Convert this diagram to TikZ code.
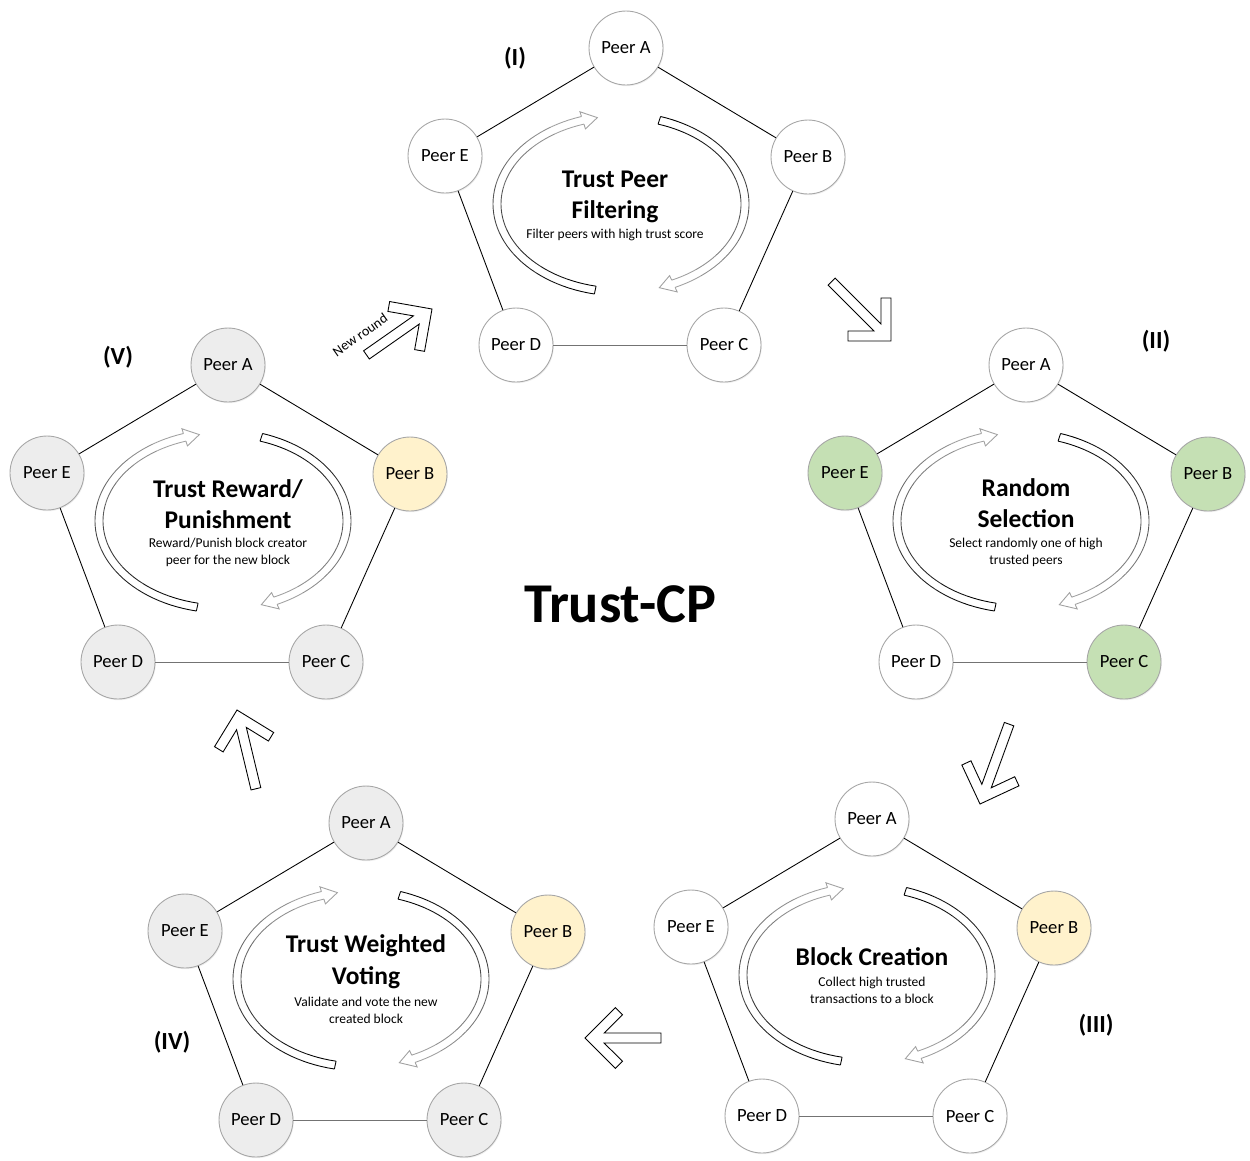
\documentclass[tikz,border=0pt]{standalone}
\usepackage{fontspec}
\setmainfont{Carlito}
\usetikzlibrary{positioning,shadows}

\definecolor{peergray}{HTML}{EDEDED}
\definecolor{peergreen}{HTML}{C5E0B4}
\definecolor{peeryellow}{HTML}{FFF2CC}

\tikzset{
  peer/.style={circle, draw=black!35, line width=0.5pt, minimum size=1.48cm, inner sep=0pt,
    font=\fontsize{10.6}{12}\selectfont,
    drop shadow={shadow xshift=0.5pt, shadow yshift=-0.7pt, opacity=0.12}},
  link/.style={line width=0.5pt},
  steptitle/.style={font=\fontsize{14.5}{18}\selectfont\bfseries, align=center, inner sep=0pt},
  stepdesc/.style={font=\fontsize{7.7}{9.6}\selectfont, align=center, inner sep=0pt},
  steplabel/.style={font=\fontsize{14}{16}\selectfont\bfseries},
  pics/bigarrow/.style={code={
    \draw[line width=0.5pt, fill=white] (0,0) -- (-30.4,30.4) -- (-37.5,23.3) -- (-19.1,5)
      -- (-#1,5) -- (-#1,-5) -- (-19.1,-5) -- (-37.5,-23.3) -- (-30.4,-30.4) -- cycle;}}
}

\begin{document}
\begin{tikzpicture}[x=0.02cm, y=-0.02cm]
    \useasboundingbox (0,0) rectangle (1250,1160);

    % the five rounds of peers
    \foreach \n/\ax/\ay/\fa/\fb/\fc/\fd/\fe in {
        1/626/48/white/white/white/white/white,
        2/1026/365/white/peergreen/peergreen/white/peergreen,
        3/872/819/white/peeryellow/white/white/white,
        4/366/823/peergray/peeryellow/peergray/peergray/peergray,
        5/228/365/peergray/peeryellow/peergray/peergray/peergray} {
        \node[peer, fill=\fa] (s\n-A) at (\ax,\ay) {Peer A};
        \node[peer, fill=\fb] (s\n-B) at ({\ax+182},{\ay+109}) {Peer B};
        \node[peer, fill=\fc] (s\n-C) at ({\ax+98},{\ay+297}) {Peer C};
        \node[peer, fill=\fd] (s\n-D) at ({\ax-110},{\ay+297}) {Peer D};
        \node[peer, fill=\fe] (s\n-E) at ({\ax-181},{\ay+108}) {Peer E};
        \draw[link] (s\n-E) -- (s\n-A) -- (s\n-B) -- (s\n-C);
        \draw[link, black!55] (s\n-C) -- (s\n-D);
        \draw[link] (s\n-D) -- (s\n-E);

        % round arrows
        \pgfmathsetmacro{\cx}{\ax-5}
        \pgfmathsetmacro{\cy}{\ay+156}
        \foreach \ts/\te/\tt in {102/252/259, -72/65/72} {
            \foreach \k in {0,...,9} {
                \pgfmathsetmacro{\ta}{\ts+(\te-(\ts))*\k/10}
                \pgfmathsetmacro{\tb}{\ts+(\te-(\ts))*(\k+1)/10}
                \pgfmathtruncatemacro{\sh}{100-7*\k}
                \draw[link, black!\sh] plot[domain=\ta:\tb, samples=6] ({\cx+128*cos(\x)},{\cy+92*sin(\x)});
                \draw[link, black!\sh] plot[domain=\ta:\tb, samples=6] ({\cx+120*cos(\x)},{\cy+84*sin(\x)});
            }
            \draw[link] ({\cx+128*cos(\ts)},{\cy+92*sin(\ts)}) -- ({\cx+120*cos(\ts)},{\cy+84*sin(\ts)});
            \draw[link, black!37] ({\cx+128*cos(\te)},{\cy+92*sin(\te)}) -- ({\cx+133*cos(\te)},{\cy+97*sin(\te)})
                -- ({\cx+124*cos(\tt)},{\cy+88*sin(\tt)}) -- ({\cx+115*cos(\te)},{\cy+79*sin(\te)})
                -- ({\cx+120*cos(\te)},{\cy+84*sin(\te)});
        }
    }

    % step texts
    \node[steptitle] (s1-title) at (615,197) {Trust Peer\\Filtering};
    \node[stepdesc] (s1-desc) at (615,235) {Filter peers with high trust score};
    \node[steptitle] (s2-title) at (1026,503) {Random\\Selection};
    \node[stepdesc] (s2-desc) at (1026,552) {Select randomly one of high\\trusted peers};
    \node[steptitle] (s3-title) at (872,957) {Block Creation};
    \node[stepdesc] (s3-desc) at (872,990) {Collect high trusted\\transactions to a block};
    \node[steptitle] (s4-title) at (366,962) {Trust Weighted\\Voting};
    \node[stepdesc] (s4-desc) at (366,1010) {Validate and vote the new\\created block};
    \node[steptitle] (s5-title) at (228,504) {Trust Reward/\\Punishment};
    \node[stepdesc] (s5-desc) at (228,552) {Reward/Punish block creator\\peer for the new block};

    \node[steplabel] (lab1) at (515,58) {(I)};
    \node[steplabel] (lab2) at (1156,341) {(II)};
    \node[steplabel] (lab3) at (1096,1025) {(III)};
    \node[steplabel] (lab4) at (172,1042) {(IV)};
    \node[steplabel] (lab5) at (118,357) {(V)};

    \node[font=\fontsize{32}{38}\selectfont\bfseries] (trustcp) at (620,604) {Trust-CP};

    % arrows between the rounds
    \pic[rotate=-45] (arr12) at (891,341) {bigarrow=84};
    \pic[rotate=250] (arr23) at (980,804) {bigarrow=85};
    \pic[rotate=180] (arr34) at (585,1038) {bigarrow=76};
    \pic[rotate=103.5] (arr45) at (237,710) {bigarrow=81};
    \pic[rotate=35] (arr51) at (432,309) {bigarrow=80};
    \node[font=\fontsize{8}{10}\selectfont, rotate=35, inner sep=1pt] (newround) at (360,335) {New round};
\end{tikzpicture}
\end{document}
